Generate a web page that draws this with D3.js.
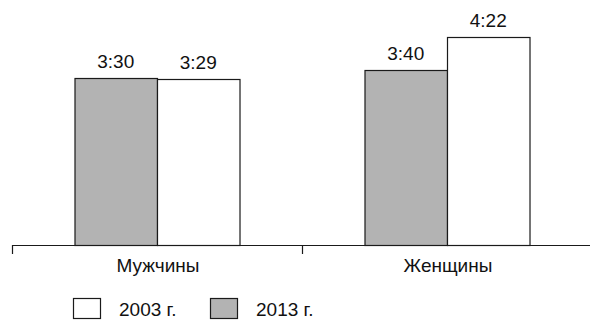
<!DOCTYPE html>
<html>
<head>
<meta charset="utf-8">
<script src="https://cdn.jsdelivr.net/npm/d3@7"></script>
<style>
  html, body { margin: 0; padding: 0; background: #fff; }
  svg { display: block; font-family: "Liberation Sans", Arial, Helvetica, sans-serif; }
</style>
</head>
<body>
<svg id="chart" width="590" height="321"></svg>
<script>
// Average daily time (minutes) by group and year
const categories = ["Мужчины", "Женщины"];
const seriesKeys = ["2013 г.", "2003 г."];       // drawn left to right inside each group
const values2013 = [210, 220];                    // 3:30, 3:40
const values2003 = [209, 262];                    // 3:29, 4:22
const legendKeys = ["2003 г.", "2013 г."];

const fills = { "2003 г.": "#ffffff", "2013 г.": "#b3b3b3" };
const valuesByKey = { "2013 г.": values2013, "2003 г.": values2003 };

const fmt = m => Math.floor(m / 60) + ":" + String(m % 60).padStart(2, "0");

const svg = d3.select("#chart");
const baseY = 245;

const x = d3.scaleBand()
  .domain(categories)
  .range([12, 592])
  .paddingInner(0.431)
  .paddingOuter(0.2155);

const xs = d3.scaleBand()
  .domain(seriesKeys)
  .range([0, x.bandwidth()])
  .padding(0);

const y = d3.scaleLinear()
  .domain([0, 262])
  .range([baseY, 37]);

const rows = categories.map((c, i) => ({
  cat: c,
  bars: seriesKeys.map(k => ({ key: k, value: valuesByKey[k][i] }))
}));

const groups = svg.selectAll("g.group")
  .data(rows)
  .join("g")
  .attr("class", "group")
  .attr("transform", d => `translate(${x(d.cat)},0)`);

groups.selectAll("rect")
  .data(d => d.bars)
  .join("rect")
  .attr("x", b => xs(b.key) + 0.5)
  .attr("y", b => Math.round(y(b.value)) + 0.5)
  .attr("width", xs.bandwidth())
  .attr("height", b => baseY - Math.round(y(b.value)))
  .attr("fill", b => fills[b.key])
  .attr("stroke", "#1a1a1a")
  .attr("stroke-width", 1.2);

groups.selectAll("text.value")
  .data(d => d.bars)
  .join("text")
  .attr("class", "value")
  .attr("x", b => xs(b.key) + xs.bandwidth() / 2)
  .attr("y", b => y(b.value) - 10)
  .attr("text-anchor", "middle")
  .attr("font-size", 19)
  .attr("fill", "#111")
  .text(b => fmt(b.value));

// Category axis: baseline with ticks at group boundaries
const step = x.step();
const gap = step - x.bandwidth();
const axis = svg.append("g").attr("class", "axis");
axis.append("line")
  .attr("x1", 12).attr("x2", 590)
  .attr("y1", baseY + 0.5).attr("y2", baseY + 0.5)
  .attr("stroke", "#1a1a1a").attr("stroke-width", 1.2);
axis.selectAll("line.tick")
  .data(categories)
  .join("line")
  .attr("class", "tick")
  .attr("x1", c => x(c) - gap / 2 + 0.5)
  .attr("x2", c => x(c) - gap / 2 + 0.5)
  .attr("y1", baseY)
  .attr("y2", baseY + 9)
  .attr("stroke", "#1a1a1a").attr("stroke-width", 1.2);
axis.selectAll("text")
  .data(categories)
  .join("text")
  .attr("x", c => x(c) + x.bandwidth() / 2 + 1)
  .attr("y", 272)
  .attr("text-anchor", "middle")
  .attr("font-size", 19)
  .attr("fill", "#111")
  .text(c => c);

// Legend
const legendX = d3.scaleOrdinal().domain(legendKeys).range([73, 210]);
const legend = svg.selectAll("g.legend")
  .data(legendKeys)
  .join("g")
  .attr("class", "legend")
  .attr("transform", k => `translate(${legendX(k)},298)`);
legend.append("rect")
  .attr("x", 0.5).attr("y", 0.5)
  .attr("width", 27).attr("height", 20)
  .attr("fill", k => fills[k])
  .attr("stroke", "#1a1a1a").attr("stroke-width", 1.2);
legend.append("text")
  .attr("x", 46)
  .attr("y", 18)
  .attr("font-size", 19)
  .attr("fill", "#111")
  .text(k => k);
</script>
</body>
</html>
